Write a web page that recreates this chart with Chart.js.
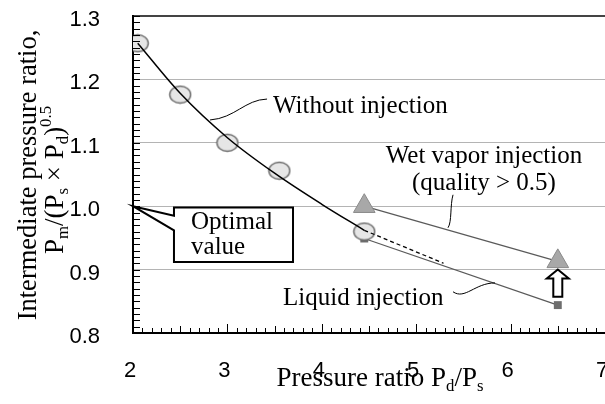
<!DOCTYPE html>
<html>
<head>
<meta charset="utf-8">
<script src="https://cdn.jsdelivr.net/npm/chart.js@4.4.0/dist/chart.umd.min.js"></script>
<style>
  html, body { margin: 0; padding: 0; background: #fff; }
  #wrap { width: 605px; height: 404px; }
</style>
</head>
<body>
<div id="wrap"><canvas id="chart"></canvas></div>
<script>
// measured points (without injection)
const ratioX = [2.05, 2.5, 3.0, 3.55, 4.45];
const withoutY = [1.257, 1.176, 1.1, 1.056, 0.96];
// fitted curve through them
const fitX = [2.05, 2.5, 3.0, 3.5, 4.0, 4.45];
const fitY = [1.257, 1.178, 1.108, 1.052, 1.003, 0.962];
// dashed extension of the curve
const extX = [4.45, 5.29];
const extY = [0.962, 0.91];
// injection cases
const injX = [4.45, 6.5];
const wetY = [1.0, 0.913];
const liquidY = [0.949, 0.844];
// axes
const xTicks = [2, 3, 4, 5, 6, 7];
const yTicks = [0.8, 0.9, 1.0, 1.1, 1.2, 1.3];

const SERIF = '"Liberation Serif", "Times New Roman", serif';
const SANS = '"Liberation Sans", Arial, sans-serif';

const pts = (xs, ys) => xs.map((x, i) => ({ x: x, y: ys[i] }));

// ellipse marker like the original
function ellipseImg(w, h) {
  const c = document.createElement("canvas");
  c.width = w + 3; c.height = h + 3;
  const g = c.getContext("2d");
  g.beginPath();
  g.ellipse(c.width / 2, c.height / 2, w / 2, h / 2, 0, 0, Math.PI * 2);
  g.fillStyle = "#e6e6e6";
  g.fill();
  g.lineWidth = 1.4;
  g.strokeStyle = "#6a6a6a";
  g.stroke();
  return c;
}

// text with sub / superscripts
function richText(ctx, parts, x, y, size, align) {
  const widths = parts.map(p => {
    ctx.font = (p[1] ? size * 0.62 : size) + "px " + SERIF;
    return ctx.measureText(p[0]).width;
  });
  const total = widths.reduce((a, b) => a + b, 0);
  let cx = align === "center" ? x - total / 2 : x;
  ctx.textAlign = "left";
  ctx.textBaseline = "alphabetic";
  parts.forEach((p, i) => {
    ctx.font = (p[1] ? size * 0.62 : size) + "px " + SERIF;
    const dy = p[1] === "sub" ? size * 0.2 : p[1] === "sup" ? -size * 0.45 : 0;
    ctx.fillText(p[0], cx, y + dy);
    cx += widths[i];
  });
}

// inner minor ticks
const minorTicks = {
  id: "minorTicks",
  afterDraw(chart) {
    const { ctx, scales: { x, y } } = chart;
    ctx.save();
    ctx.strokeStyle = "#000";
    ctx.lineWidth = 1;
    ctx.beginPath();
    for (let v = 80; v <= 130; v++) {
      const py = Math.round(y.getPixelForValue(v / 100)) + 0.5;
      ctx.moveTo(x.left, py);
      ctx.lineTo(x.left + 7, py);
    }
    for (let v = 20; v <= 70; v++) {
      const px = Math.round(x.getPixelForValue(v / 10)) + 0.5;
      const len = v % 10 === 0 ? 9 : v % 5 === 0 ? 7 : 5;
      ctx.moveTo(px, y.bottom);
      ctx.lineTo(px, y.bottom - len);
    }
    ctx.stroke();
    ctx.restore();
  }
};

// callouts, leaders, arrow and axis titles
const notes = {
  id: "notes",
  afterDatasetsDraw(chart) {
    const { ctx, scales: { x, y } } = chart;
    const X = v => x.getPixelForValue(v);
    const Y = v => y.getPixelForValue(v);
    ctx.save();

    // leader curves
    ctx.strokeStyle = "#000";
    ctx.lineWidth = 1;
    const leader = (a, b, c, d) => {
      ctx.beginPath();
      ctx.moveTo(X(a[0]), Y(a[1]));
      ctx.bezierCurveTo(X(b[0]), Y(b[1]), X(c[0]), Y(c[1]), X(d[0]), Y(d[1]));
      ctx.stroke();
    };
    leader([2.816, 1.136], [3.081, 1.139], [3.186, 1.168], [3.42, 1.169]);
    leader([5.39, 1.018], [5.358, 1.002], [5.379, 0.975], [5.337, 0.966]);
    leader([5.39, 0.865], [5.517, 0.852], [5.623, 0.879], [5.835, 0.879]);

    // optimal value callout
    ctx.beginPath();
    ctx.moveTo(X(2.0), Y(1.0));
    ctx.lineTo(X(2.434), Y(0.985));
    ctx.lineTo(X(2.434), Y(0.998));
    ctx.lineTo(X(3.695), Y(0.998));
    ctx.lineTo(X(3.695), Y(0.912));
    ctx.lineTo(X(2.434), Y(0.912));
    ctx.lineTo(X(2.434), Y(0.962));
    ctx.closePath();
    ctx.fillStyle = "#fff";
    ctx.fill();
    ctx.lineWidth = 2;
    ctx.lineJoin = "miter";
    ctx.stroke();

    // open arrow under the wet vapor point
    const ax = X(6.5), at = Y(0.9), ab = Y(0.857);
    ctx.beginPath();
    ctx.moveTo(ax, at);
    ctx.lineTo(ax + 11, at + 9);
    ctx.lineTo(ax + 4.5, at + 9);
    ctx.lineTo(ax + 4.5, ab);
    ctx.lineTo(ax - 4.5, ab);
    ctx.lineTo(ax - 4.5, at + 9);
    ctx.lineTo(ax - 11, at + 9);
    ctx.closePath();
    ctx.fillStyle = "#fff";
    ctx.fill();
    ctx.lineWidth = 2;
    ctx.stroke();

    // labels
    ctx.fillStyle = "#000";
    richText(ctx, [["Without injection"]], X(3.483), Y(1.147), 25, "left");
    richText(ctx, [["Wet vapor injection"]], X(5.718), Y(1.068), 25, "center");
    richText(ctx, [["(quality > 0.5)"]], X(5.718), Y(1.025), 25, "center");
    richText(ctx, [["Liquid injection"]], X(3.589), Y(0.844), 25, "left");
    richText(ctx, [["Optimal"]], X(2.615), Y(0.964), 25, "left");
    richText(ctx, [["value"]], X(2.615), Y(0.9246), 25, "left");

    // x title
    richText(ctx, [["Pressure ratio P"], ["d", "sub"], ["/P"], ["s", "sub"]], 380, 386, 27, "center");

    // y title (two lines, rotated)
    ctx.save();
    ctx.translate(36, 175);
    ctx.rotate(-Math.PI / 2);
    richText(ctx, [["Intermediate pressure ratio,"]], 0, 0, 26.5, "center");
    ctx.restore();
    ctx.save();
    ctx.translate(63, 180);
    ctx.rotate(-Math.PI / 2);
    richText(ctx, [["P"], ["m", "sub"], ["/(P"], ["s", "sub"], [" \u00d7 P"], ["d", "sub"], [")"], ["0.5", "sup"]], 0, 0, 27, "center");
    ctx.restore();
    ctx.restore();
  }
};

new Chart(document.getElementById("chart"), {
  type: "scatter",
  data: {
    datasets: [
      {
        label: "fit",
        data: pts(fitX, fitY),
        showLine: true,
        borderColor: "#000",
        borderWidth: 1.5,
        cubicInterpolationMode: "monotone",
        pointRadius: 0,
        order: 0
      },
      {
        label: "Without injection",
        data: pts(ratioX, withoutY),
        pointStyle: ellipseImg(21, 17),
        order: 2
      },
      {
        label: "extension",
        data: pts(extX, extY),
        showLine: true,
        borderColor: "#000",
        borderWidth: 1.3,
        borderDash: [4, 3],
        pointRadius: 0,
        order: 1
      },
      {
        label: "Wet vapor injection",
        data: pts(injX, wetY),
        showLine: true,
        borderColor: "#5a5a5a",
        borderWidth: 1.2,
        pointStyle: "triangle",
        pointRadius: 12.5,
        pointBackgroundColor: "#a8a8a8",
        pointBorderColor: "#8a8a8a",
        pointBorderWidth: 1,
        order: 3
      },
      {
        label: "Liquid injection",
        data: pts(injX, liquidY),
        showLine: true,
        borderColor: "#5a5a5a",
        borderWidth: 1.2,
        pointStyle: "rect",
        pointRadius: 5.6,
        pointBackgroundColor: "#6e6e6e",
        pointBorderColor: "#6e6e6e",
        pointBorderWidth: 0,
        order: 3
      }
    ]
  },
  options: {
    responsive: true,
    maintainAspectRatio: false,
    animation: false,
    events: [],
    layout: { autoPadding: false, padding: { top: 16, left: 0, right: 0, bottom: 0 } },
    plugins: { legend: { display: false }, tooltip: { enabled: false } },
    scales: {
      x: {
        type: "linear",
        min: 2,
        max: 7,
        afterBuildTicks: s => { s.ticks = xTicks.map(v => ({ value: v })); },
        afterFit: s => { s.height = 71; s.paddingLeft = 0; s.paddingRight = 0; },
        grid: { display: false, drawTicks: false },
        border: { display: true, color: "#000", width: 2 },
        ticks: {
          autoSkip: false,
          maxRotation: 0,
          padding: 25,
          labelOffset: -3,
          color: "#000",
          font: { family: SANS, size: 22 }
        }
      },
      y: {
        type: "linear",
        min: 0.8,
        max: 1.3,
        afterBuildTicks: s => { s.ticks = yTicks.map(v => ({ value: v })); },
        afterFit: s => { s.width = 133; s.paddingTop = 0; s.paddingBottom = 0; },
        grid: {
          drawTicks: false,
          color: c => (c.tick && c.tick.value > 1.29 ? "#444" : "#b4b4b4"),
          lineWidth: c => (c.tick && c.tick.value > 1.29 ? 2 : 1)
        },
        border: { display: true, color: "#000", width: 2 },
        ticks: {
          padding: 33,
          labelOffset: 4,
          color: "#000",
          font: { family: SANS, size: 22 },
          callback: v => v.toFixed(1)
        }
      }
    }
  },
  plugins: [minorTicks, notes]
});
</script>
</body>
</html>
